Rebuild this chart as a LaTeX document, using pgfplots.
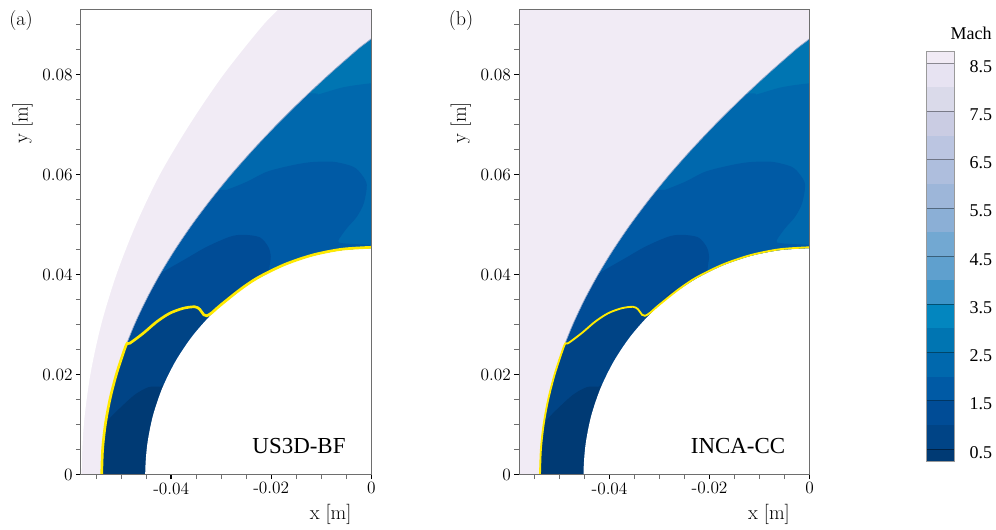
\documentclass[border=0pt]{standalone}
\usepackage{fontspec}
\newfontfamily\timesf{Liberation Serif}
\usepackage{pgfplots}
\usepackage{pgfplotstable}
\pgfplotsset{compat=1.18}
\definecolor{cA}{HTML}{0075B2}
\definecolor{cB}{HTML}{0068AD}
\definecolor{cC}{HTML}{005AA5}
\definecolor{cD}{HTML}{004C96}
\definecolor{cS}{HTML}{004486}
\definecolor{cE}{HTML}{003A74}
\definecolor{cF}{HTML}{F1EBF5}
\definecolor{sonic}{HTML}{FFEA00}
\definecolor{frame}{HTML}{6E6E6E}
\definecolor{edge}{HTML}{8FA5C8}
% Mach contour boundaries, x y in metres
\pgfplotstableread{
x y
0.003 0.0782
0 0.0782
-0.0056 0.0774
-0.0109 0.0759
-0.0119 0.0762
-0.03 0.0762
-0.07 0.0762
-0.07 -0.003
0.003 -0.003
}\contB
\pgfplotstableread{
x y
-0.07 0.0569
-0.0298 0.0569
-0.0289 0.0569
-0.0249 0.0585
-0.0209 0.0605
-0.0163 0.0617
-0.0123 0.0624
-0.0076 0.0625
-0.0036 0.0615
-0.0019 0.0599
-0.0009 0.0579
-0.0015 0.0542
-0.0029 0.0515
-0.0049 0.0492
-0.0066 0.0467
-0.0056 0.0462
0 0.0459
0.003 0.0459
0.003 -0.003
-0.07 -0.003
}\contC
\pgfplotstableread{
x y
-0.07 0.0355
-0.05 0.0355
-0.0416 0.0405
-0.0369 0.0432
-0.0329 0.0455
-0.0283 0.0475
-0.0256 0.0479
-0.0223 0.0474
-0.0206 0.0455
-0.0201 0.0435
-0.0204 0.0409
-0.0204 0.035
-0.02 -0.003
-0.07 -0.003
}\contD
\pgfplotstableread{
x y
-0.06 -0.003
-0.06 0.0262
-0.0483 0.0262
-0.0456 0.0282
-0.0429 0.0305
-0.0403 0.0322
-0.0376 0.0332
-0.0353 0.0335
-0.0343 0.0330
-0.0335 0.0319
-0.0329 0.0317
-0.0319 0.0323
-0.0303 0.0337
-0.0263 0.0369
-0.02 0.03
-0.02 -0.003
}\contS
\pgfplotstableread{
x y
-0.07 0.0075
-0.056 0.0075
-0.0523 0.0112
-0.0503 0.0132
-0.0473 0.0159
-0.0446 0.0174
-0.0423 0.0175
-0.0400 0.0170
-0.04 -0.003
-0.07 -0.003
}\contE
\pgfplotstableread{
x y
0.003 0.0930
0.0008 0.088
-0.00273 0.085
-0.00841 0.08
-0.01378 0.075
-0.01883 0.07
-0.02356 0.065
-0.02798 0.06
-0.03205 0.055
-0.0358 0.05
-0.0392 0.045
-0.04226 0.04
-0.04497 0.035
-0.04733 0.03
-0.04933 0.025
-0.05097 0.02
-0.05225 0.015
-0.05317 0.01
-0.05372 0.005
-0.0539 0
-0.05372 -0.005
-0.07 -0.006
-0.08 0.10
0.003 0.11
}\shock
\pgfplotstableread{
x y
-0.05747 -0.01
-0.0579 0
-0.05747 0.01
-0.05616 0.02
-0.05399 0.03
-0.05094 0.04
-0.04703 0.05
-0.04225 0.06
-0.0363 0.07
-0.0295 0.08
-0.0215 0.09
-0.0165 0.095
-0.012 0.10
-0.012 0.11
-0.08 0.11
-0.08 -0.01
}\outer
\pgfplotstableread{
x y
-0.0448 -0.0059
-0.0452 0
-0.0448 0.0059
-0.04366 0.0117
-0.04176 0.0173
-0.03914 0.0226
-0.03586 0.02752
-0.03196 0.03196
-0.02752 0.03586
-0.0226 0.03914
-0.0173 0.04176
-0.0117 0.04366
-0.0059 0.0448
0 0.0452
0.003 0.0452
0.003 -0.006
}\body
\pgfplotstableread{
x y
-0.0539 0
-0.05372 0.005
-0.05317 0.01
-0.05225 0.015
-0.05097 0.02
-0.04933 0.025
-0.0488 0.0262
-0.0483 0.0262
-0.0456 0.0282
-0.0429 0.0305
-0.0403 0.0322
-0.0376 0.0332
-0.0353 0.0335
-0.0343 0.0330
-0.0335 0.0319
-0.0329 0.0317
-0.0319 0.0323
-0.0303 0.0337
-0.0263 0.0369
-0.0227 0.03932
-0.01737 0.04194
-0.01175 0.04385
-0.00593 0.04501
0 0.0454
}\sonicline
\pgfplotsset{field/.style={
  scale only axis, anchor=south west, width=217.95pt, height=348.6pt,
  xmin=-0.0581, xmax=0, ymin=0, ymax=0.09296,
  axis on top, tick align=outside, axis line style={frame,line width=0.7pt},
  xtick pos=bottom, ytick pos=left, scaled ticks=false,
  xtick={-0.04,-0.02,0}, xticklabels={-0.04,-0.02,0},
  ytick={0,0.02,0.04,0.06,0.08}, yticklabels={0,0.02,0.04,0.06,0.08},
  minor xtick={-0.055,-0.05,-0.045,-0.035,-0.03,-0.025,-0.015,-0.01,-0.005},
  minor ytick={0.005,0.01,0.015,0.025,0.03,0.035,0.045,0.05,0.055,0.065,0.07,0.075,0.085,0.09},
  major tick length=3.6pt, minor tick length=3.6pt,
  major tick style={black,line width=1.1pt}, minor tick style={frame,line width=0.4pt},
  tick label style={font=\fontsize{13}{13}\selectfont},
  xticklabel shift=-1pt, yticklabel shift=-1pt,
  yticklabel style={yshift=-0.7pt},
  xlabel={x [m]}, ylabel={y [m]},
  every axis x label/.style={at={(rel axis cs:0.86,-0.0871)},anchor=center,font=\fontsize{15.2}{15.2}\selectfont},
  every axis y label/.style={at={(rel axis cs:-0.2,0.756)},anchor=center,rotate=90,font=\fontsize{15.2}{15.2}\selectfont},
}}
\newcommand\contours{%
  \addplot[fill=cA,draw=none] coordinates {(-0.07,-0.003)(0.003,-0.003)(0.003,0.1)(-0.07,0.1)};
  \addplot[fill=cB,draw=none,smooth] table {\contB};
  \addplot[fill=cC,draw=none,smooth] table {\contC};
  \addplot[fill=cD,draw=none,smooth] table {\contD};
  \addplot[fill=cS,draw=none,smooth,tension=0.5] table {\contS};
  \addplot[fill=cE,draw=none,smooth] table {\contE};
  \addplot[fill=cF,draw=edge,line width=0.5pt,smooth] table {\shock};
}
\definecolor{m00}{HTML}{003A74}
\definecolor{m01}{HTML}{004486}
\definecolor{m02}{HTML}{004C96}
\definecolor{m03}{HTML}{005AA5}
\definecolor{m04}{HTML}{0068AD}
\definecolor{m05}{HTML}{0075B2}
\definecolor{m06}{HTML}{0386BF}
\definecolor{m07}{HTML}{3D94C8}
\definecolor{m08}{HTML}{5FA0CE}
\definecolor{m09}{HTML}{72A8D2}
\definecolor{m10}{HTML}{8BAFD6}
\definecolor{m11}{HTML}{9DB6D9}
\definecolor{m12}{HTML}{AEBEDD}
\definecolor{m13}{HTML}{BBC5E1}
\definecolor{m14}{HTML}{CACCE3}
\definecolor{m15}{HTML}{DADAEA}
\definecolor{m16}{HTML}{E7E3F2}
\definecolor{m17}{HTML}{F1EBF5}
\newcommand\band[3]{\addplot[fill=#1,draw=none] coordinates {(0,#2)(1,#2)(1,#3)(0,#3)};}
\begin{document}
\begin{tikzpicture}[x=0.75pt,y=0.75pt]
\path[use as bounding box] (0,0) rectangle (996,530);
\begin{axis}[field, at={(60.525pt,41.775pt)}]
  \contours
  \addplot[fill=white,draw=none,smooth] table {\outer};
  \addplot[fill=white,draw=none,smooth] table {\body};
  \addplot[sonic,line width=2pt,smooth,tension=0.5] table {\sonicline};
\end{axis}
\begin{axis}[field, at={(389.25pt,41.775pt)}]
  \contours
  \addplot[fill=white,draw=none,smooth] table {\body};
  \addplot[sonic,line width=1.4pt,smooth,tension=0.5] table {\sonicline};
\end{axis}
\node[font=\fontsize{15}{15}\selectfont] at (21,509) {(a)};
\node[font=\fontsize{15}{15}\selectfont] at (461,509) {(b)};
\node[font=\timesf\fontsize{17.2}{17.2}\selectfont] at (299,84) {US3D-BF};
\node[font=\timesf\fontsize{17.2}{17.2}\selectfont] at (738,84) {INCA-CC};
\node[font=\timesf\fontsize{13.5}{13.5}\selectfont] at (971,497) {Mach};
\begin{axis}[scale only axis, anchor=south west, at={(694.5pt,51.75pt)},
  width=21.2pt, height=307pt, xmin=0, xmax=1, ymin=0.25, ymax=8.74,
  axis on top, axis line style={frame!70,line width=0.5pt},
  xtick=\empty, ytick={0.5,1.5,2.5,3.5,4.5,5.5,6.5,7.5,8.5},
  yticklabels={0.5,1.5,2.5,3.5,4.5,5.5,6.5,7.5,8.5},
  yticklabel pos=right, ymajorgrids, grid style={black,opacity=0.4,line width=0.5pt},
  major tick length=0pt, yticklabel shift=8pt,
  yticklabel style={yshift=-2.5pt},
  tick label style={font=\timesf\fontsize{13.5}{13.5}\selectfont}]
  \band{m00}{0.25}{0.5}
  \band{m01}{0.5}{1}
  \band{m02}{1}{1.5}
  \band{m03}{1.5}{2}
  \band{m04}{2}{2.5}
  \band{m05}{2.5}{3}
  \band{m06}{3}{3.5}
  \band{m07}{3.5}{4}
  \band{m08}{4}{4.5}
  \band{m09}{4.5}{5}
  \band{m10}{5}{5.5}
  \band{m11}{5.5}{6}
  \band{m12}{6}{6.5}
  \band{m13}{6.5}{7}
  \band{m14}{7}{7.5}
  \band{m15}{7.5}{8}
  \band{m16}{8}{8.5}
  \band{m17}{8.5}{8.74}
\end{axis}
\end{tikzpicture}
\end{document}
